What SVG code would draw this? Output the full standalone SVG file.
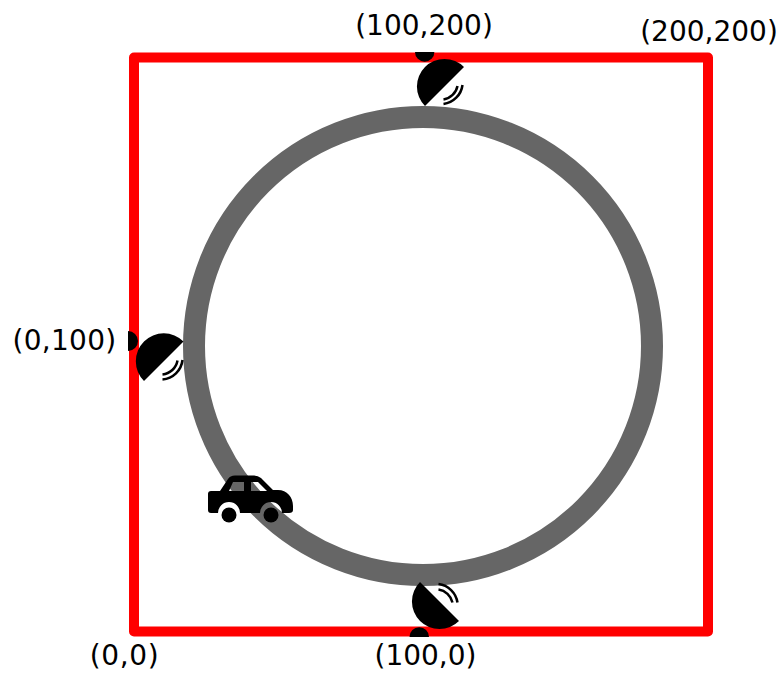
<svg xmlns="http://www.w3.org/2000/svg" width="781" height="673" viewBox="0 0 781 673">
<style>
.lbl{font-family:"DejaVu Sans",Verdana,sans-serif;font-size:28px;fill:#000}
.wave{fill:none;stroke:#000;stroke-width:2.5}
</style>
<rect width="781" height="673" fill="#fff"/>
<g id="connectors">
<rect id="square" x="134" y="57.500" width="574" height="574" fill="none" stroke="#f00" stroke-width="10" stroke-linejoin="round"/>
<circle id="track" cx="423" cy="346" r="229" fill="none" stroke="#666" stroke-width="22"/>
</g>
<g id="sensor-top">
<path d="M415,52A9.700,9.700 0 0 0 434.400,52Z"/>
<path d="M425,106A27,27 0 0 1 464,67Z"/>
<path class="wave" d="M443.500,104A22,22 0 0 0 462.500,85"/>
<path class="wave" d="M443.500,99.500A17,17 0 0 0 457.500,86"/>
</g>
<g id="sensor-left">
<path d="M128,331A10,10 0 0 1 128,351Z"/>
<path d="M144,381A27,27 0 0 1 183.500,341.500Z"/>
<path class="wave" d="M162.500,379.500A22,22 0 0 0 182.500,360"/>
<path class="wave" d="M162.500,374.500A17,17 0 0 0 177.500,360.500"/>
</g>
<g id="sensor-bottom">
<path d="M409.500,637A9.700,9.700 0 0 1 429,637Z"/>
<path d="M420,582A27,27 0 0 0 459,621Z"/>
<path class="wave" d="M438.500,584A22,22 0 0 1 457.500,602.500"/>
<path class="wave" d="M438.500,589.500A17,17 0 0 1 452.500,602.500"/>
</g>
<g id="car">
<path fill-rule="evenodd" d="M208,494Q208,491 211,491H220L228,479Q230,475.500 235,475.500H254Q258,475.500 261,478L273,490H278C287,490 293,497 293,506V510Q293,513 289,513H282A11,11 0 0 0 260,513H240A11,11 0 0 0 218,513H211Q208,513 208,510Z M233,482 L229,491H244V482Z M251,482V491H267L258,482Z"/>
<circle cx="229" cy="515" r="7.500"/>
<circle cx="271" cy="515" r="7.500"/>
</g>
<g id="labels">
<text class="lbl" x="424" y="35" text-anchor="middle">(100,200)</text>
<text class="lbl" x="709" y="41" text-anchor="middle">(200,200)</text>
<text class="lbl" x="64.500" y="350" text-anchor="middle" letter-spacing="0.300">(0,100)</text>
<text class="lbl" x="124.500" y="665" text-anchor="middle" letter-spacing="0.600">(0,0)</text>
<text class="lbl" x="425.500" y="665" text-anchor="middle">(100,0)</text>
</g>
</svg>
